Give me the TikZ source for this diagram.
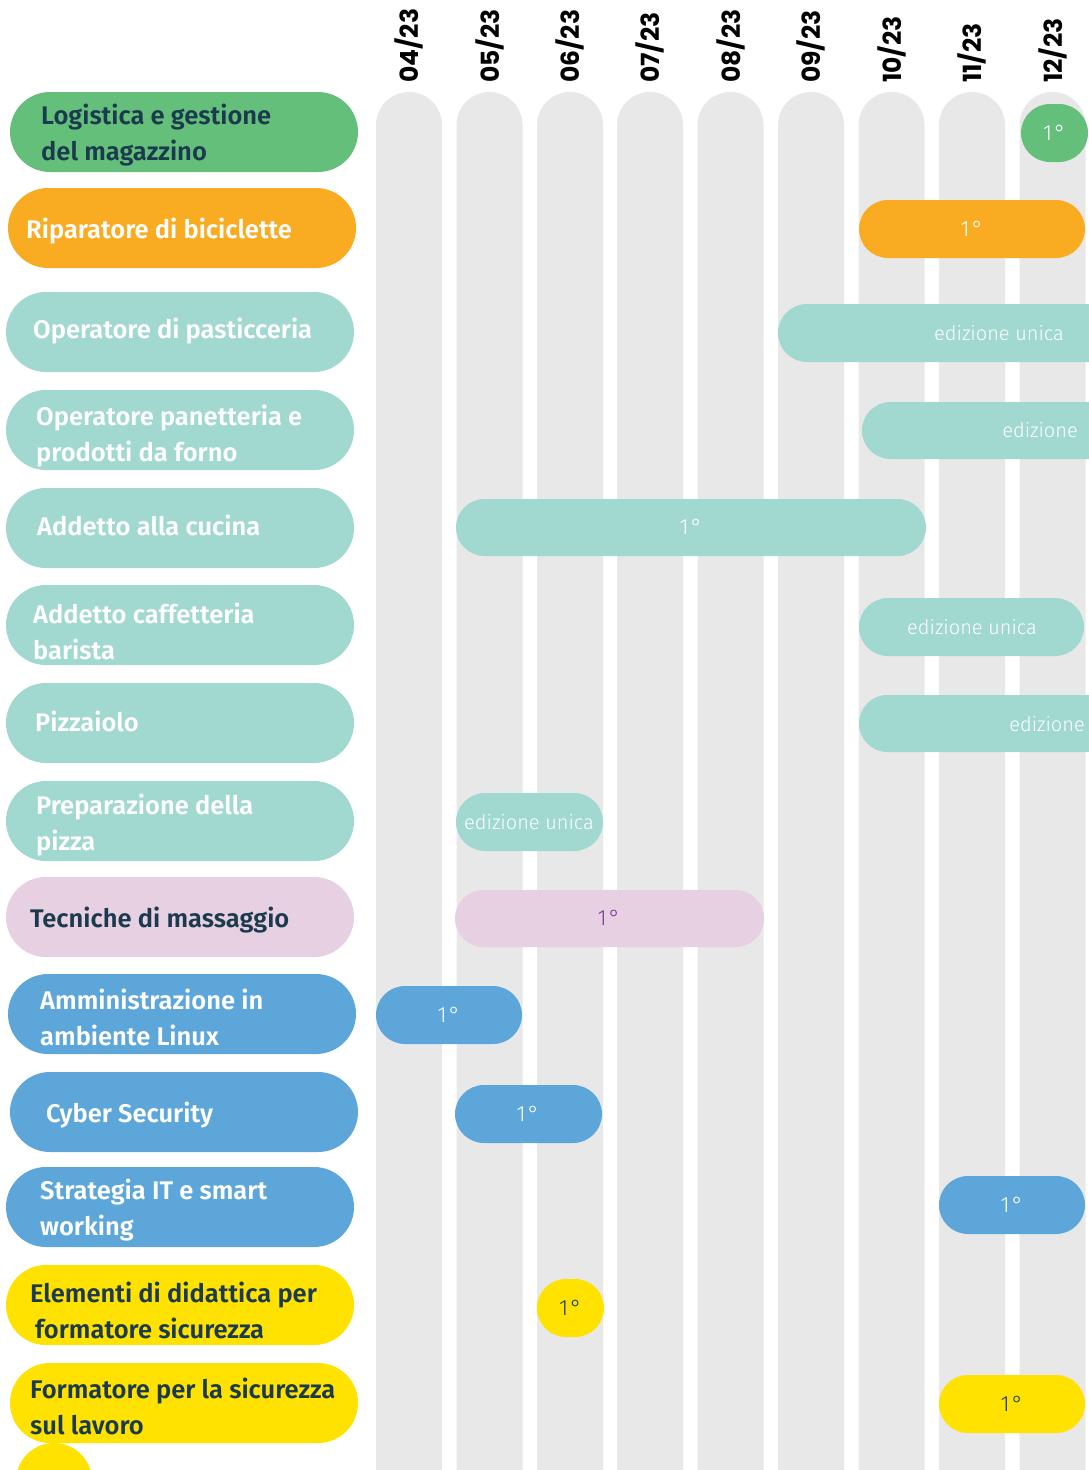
\documentclass[tikz,border=0pt]{standalone}
\usepackage{fontspec}
\newfontfamily\labfont{Fira Sans SemiBold}
\newfontfamily\barfont{Fira Sans Light}
\newfontfamily\monfont{Poppins Bold}
\definecolor{cgreen}{HTML}{63BF7A}
\definecolor{corange}{HTML}{F9AC21}
\definecolor{cteal}{HTML}{A1D8D0}
\definecolor{cpink}{HTML}{E7D0E2}
\definecolor{cblue}{HTML}{5DA6DA}
\definecolor{cyellow}{HTML}{FFE200}
\definecolor{cgray}{HTML}{E8E8E8}
\definecolor{cnavy}{HTML}{1C3A4E}
\definecolor{cpurple}{HTML}{7D3C98}
\tikzset{
  lab/.style={anchor=west, inner sep=0pt, align=left, font=\labfont\fontsize{25.5}{36}\selectfont},
  bartxt/.style={inner sep=0pt, font=\barfont\fontsize{20}{24}\selectfont, text=white},
  ordtxt/.style={inner sep=0pt, font=\barfont\fontsize{22}{24}\selectfont, text=white},
  month/.style={rotate=90, anchor=west, inner sep=0pt, font=\monfont\fontsize{25}{28}\selectfont, text=black},
}
\newcommand{\pill}[5]{\fill[#5, rounded corners=#4] (#1,#2) rectangle (#3,#2+2*#4);}
\newcommand{\ord}{1\kern2pt°}
\begin{document}
\begin{tikzpicture}[x=1pt,y=-1pt]
\useasboundingbox (0,0) rectangle (1089,1470);
\clip (0,0) rectangle (1089,1470);
% columns
\foreach \cx/\m [count=\i] in {409/04,489.5/05,570/06,650/07,730.5/08,811/09,891.5/10,972/11,1052.5/12}{
  \fill[cgray, rounded corners=33] (\cx-33,92) rectangle (\cx+33,1560);
  \node[month] (m\i) at (\cx,83) {\m/23};
}
% left pills
\pill{10}{92}{358}{40}{cgreen}
\node[lab, text=cnavy] (l1) at (41,135) {Logistica e gestione\\del magazzino};
\pill{8}{188}{356}{40}{corange}
\node[lab, text=white] (l2) at (26,231) {Riparatore di biciclette};
\pill{6}{292}{354}{40}{cteal}
\node[lab, text=white] (l3) at (33,331) {Operatore di pasticceria};
\pill{6}{390}{354}{40}{cteal}
\node[lab, text=white] (l4) at (36,436) {Operatore panetteria e\\prodotti da forno};
\pill{6}{488}{354}{40}{cteal}
\node[lab, text=white] (l5) at (37,525) {Addetto alla cucina};
\pill{6}{585}{354}{40}{cteal}
\node[lab, text=white] (l6) at (33,631) {Addetto caffetteria\\barista};
\pill{6}{683}{354}{40}{cteal}
\node[lab, text=white] (l7) at (35,721) {Pizzaiolo};
\pill{6}{781}{354}{40}{cteal}
\node[lab, text=white] (l8) at (36,825) {Preparazione della\\pizza};
\pill{6}{877}{354}{40}{cpink}
\node[lab, text=cnavy] (l9) at (30,920) {Tecniche di massaggio};
\pill{8}{974}{356}{40}{cblue}
\node[lab, text=white] (l10) at (40,1017) {Amministrazione in\\ambiente Linux};
\pill{10}{1072}{358}{40}{cblue}
\node[lab, text=white] (l11) at (46,1115) {Cyber Security};
\pill{6}{1167}{354}{40}{cblue}
\node[lab, text=white] (l12) at (40,1210) {Strategia IT e smart\\working};
\pill{6}{1265}{354}{40}{cyellow}
\node[lab, text=cnavy] (l13) at (30,1310) {Elementi di didattica per\\\hspace*{5pt}formatore sicurezza};
\pill{10}{1363}{358}{40}{cyellow}
\node[lab, text=cnavy] (l14) at (30,1406) {Formatore per la sicurezza\\sul lavoro};
\fill[cyellow] (54,1481) circle (38);
% bars
\pill{1021}{104}{1088}{29}{cgreen}
\node[ordtxt] (b1) at (1054.5,133) {\ord};
\pill{859}{200}{1085}{29}{corange}
\node[ordtxt] (b2) at (972,229) {\ord};
\pill{778}{304}{1230}{29}{cteal}
\node[bartxt] (b3) at (999,333) {edizione unica};
\pill{862}{402}{1230}{28.5}{cteal}
\node[bartxt, anchor=east] (b4) at (1078,430) {edizione};
\pill{456}{499}{926}{28.5}{cteal}
\node[ordtxt] (b5) at (691,527) {\ord};
\pill{859}{598}{1084}{29}{cteal}
\node[bartxt] (b6) at (972,627) {edizione unica};
\pill{859}{695}{1230}{28.5}{cteal}
\node[bartxt, anchor=east] (b7) at (1085,724) {edizione};
\pill{456}{793}{603}{29}{cteal}
\node[bartxt] (b8) at (529,822) {edizione unica};
\pill{455}{890}{764}{28.5}{cpink}
\node[ordtxt, text=cpurple] (b9) at (609,918) {\ord};
\pill{376}{986}{522}{29}{cblue}
\node[ordtxt] (b10) at (449,1015) {\ord};
\pill{455}{1085}{602}{29}{cblue}
\node[ordtxt] (b11) at (528,1114) {\ord};
\pill{939}{1176}{1085}{29}{cblue}
\node[ordtxt] (b12) at (1012,1205) {\ord};
\pill{537}{1279}{604}{29}{cyellow}
\node[ordtxt, text=cnavy] (b13) at (570.5,1308) {\ord};
\pill{939}{1375}{1085}{29}{cyellow}
\node[ordtxt, text=cnavy] (b14) at (1012,1404) {\ord};
\end{tikzpicture}
\end{document}
